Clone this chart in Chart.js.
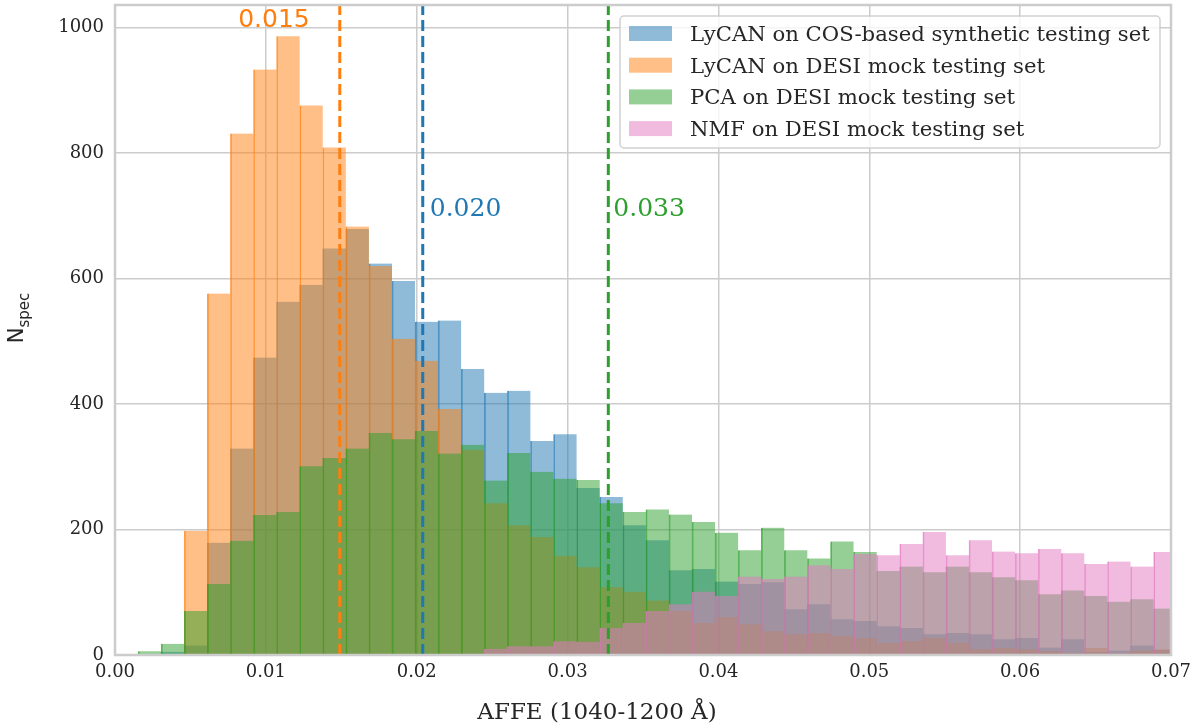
<!DOCTYPE html>
<html>
<head>
<meta charset="utf-8">
<script src="https://cdn.jsdelivr.net/npm/chart.js@4.4.0/dist/chart.umd.min.js"></script>
<style>
  html, body { margin: 0; padding: 0; background: #fff; }
  #wrap { width: 1203px; height: 723px; }
</style>
</head>
<body>
<div id="wrap"><canvas id="affeHist" width="1203" height="723"></canvas></div>
<script>
// histogram bins (left edges) and bin width, AFFE units
var binStarts = [0.00153, 0.00306, 0.00459, 0.00612, 0.00765, 0.00918, 0.01071, 0.01224, 0.01377, 0.0153,
                 0.01683, 0.01836, 0.01989, 0.02142, 0.02295, 0.02448, 0.02601, 0.02754, 0.02907, 0.0306,
                 0.03213, 0.03366, 0.03519, 0.03672, 0.03825, 0.03978, 0.04131, 0.04284, 0.04437, 0.0459,
                 0.04743, 0.04896, 0.05049, 0.05202, 0.05355, 0.05508, 0.05661, 0.05814, 0.05967, 0.0612,
                 0.06273, 0.06426, 0.06579, 0.06732, 0.06885];
var binWidth = 0.00153;

// counts per bin
var lycanCos  = [0, 5, 15, 179, 329, 474, 563, 590, 648, 679, 624, 596, 531, 533, 456, 418, 421, 341, 352, 266,
                 252, 207, 183, 135, 137, 117, 113, 116, 73, 81, 57, 54, 46, 43, 33, 35, 33, 25, 27, 12,
                 25, 5, 7, 15, 8];
var lycanDesi = [0, 0, 198, 576, 831, 933, 986, 876, 809, 683, 620, 504, 469, 392, 327, 242, 207, 188, 158, 140,
                 108, 101, 87, 70, 51, 60, 49, 38, 33, 35, 30, 27, 19, 22, 27, 19, 9, 11, 9, 6,
                 3, 11, 3, 7, 9];
var pcaDesi   = [6, 18, 70, 113, 182, 223, 228, 301, 314, 329, 354, 344, 357, 321, 335, 278, 322, 292, 281, 279,
                 242, 228, 232, 224, 212, 195, 167, 203, 167, 154, 181, 164, 134, 141, 132, 141, 132, 124, 119, 97,
                 103, 94, 85, 89, 74];
var nmfDesi   = [0, 0, 0, 0, 0, 0, 0, 0, 0, 0, 0, 0, 0, 1, 2, 10, 14, 14, 22, 21,
                 43, 51, 70, 81, 101, 94, 125, 121, 125, 143, 137, 161, 159, 177, 196, 159, 183, 165, 162, 169,
                 162, 145, 149, 141, 164];

var seriesLabels = ['LyCAN on COS-based synthetic testing set', 'LyCAN on DESI mock testing set',
                    'PCA on DESI mock testing set', 'NMF on DESI mock testing set'];
var seriesColors = ['31,119,180', '255,127,14', '44,160,44', '227,119,194'];

// medians drawn as dashed lines: blue, orange, green order of the labels
var medianValues = [0.0204, 0.0149, 0.0327];
var medianLabels = ['0.020', '0.015', '0.033'];
var medianColors = ['#1f77b4', '#ff7f0e', '#2ca02c'];

var xTicks = [0, 0.01, 0.02, 0.03, 0.04, 0.05, 0.06, 0.07];
var yTicks = [0, 200, 400, 600, 800, 1000];
var yMax = 1036;

function toPoints(counts) {
  return counts.map(function (c, i) { return { x: binStarts[i] + binWidth / 2, y: c }; });
}

var allCounts = [lycanCos, lycanDesi, pcaDesi, nmfDesi];
var datasets = allCounts.map(function (counts, i) {
  return {
    type: 'bar',
    label: seriesLabels[i],
    data: toPoints(counts),
    backgroundColor: 'rgba(' + seriesColors[i] + ',0.5)',
    borderColor: 'rgba(' + seriesColors[i] + ',0.75)',
    borderWidth: { left: 1, right: 0, top: 0, bottom: 0 },
    borderSkipped: false,
    barPercentage: 1,
    categoryPercentage: 1,
    grouped: false,
    order: 4 - i
  };
});

medianValues.forEach(function (m, i) {
  datasets.push({
    type: 'line',
    label: 'median ' + medianLabels[i],
    data: [{ x: m, y: 0 }, { x: m, y: yMax }],
    borderColor: medianColors[i],
    borderWidth: 3,
    borderDash: [11, 5],
    pointRadius: 0,
    fill: false,
    order: 0
  });
});

var textColor = '#262626';

var decor = {
  id: 'decor',
  afterDraw: function (chart) {
    var ctx = chart.ctx, a = chart.chartArea;
    var xs = chart.scales.x;
    ctx.save();

    // frame
    ctx.strokeStyle = '#cccccc';
    ctx.lineWidth = 2.5;
    ctx.strokeRect(a.left, a.top, a.right - a.left, a.bottom - a.top);

    // median labels
    ctx.textBaseline = 'alphabetic';
    ctx.textAlign = 'left';
    var px;
    px = xs.getPixelForValue(medianValues[0]);
    ctx.fillStyle = medianColors[0];
    ctx.font = '25px "DejaVu Serif"';
    ctx.fillText(medianLabels[0], px + 7, 216);
    px = xs.getPixelForValue(medianValues[1]);
    ctx.fillStyle = medianColors[1];
    ctx.font = '25px "DejaVu Sans"';
    ctx.textAlign = 'right';
    ctx.fillText(medianLabels[1], px - 30, 27);
    px = xs.getPixelForValue(medianValues[2]);
    ctx.fillStyle = medianColors[2];
    ctx.font = '25px "DejaVu Serif"';
    ctx.textAlign = 'left';
    ctx.fillText(medianLabels[2], px + 5, 216);

    // legend box
    var bx = 620, by = 16, bw = 540, bh = 132, r = 4;
    ctx.beginPath();
    ctx.moveTo(bx + r, by);
    ctx.lineTo(bx + bw - r, by);
    ctx.arcTo(bx + bw, by, bx + bw, by + r, r);
    ctx.lineTo(bx + bw, by + bh - r);
    ctx.arcTo(bx + bw, by + bh, bx + bw - r, by + bh, r);
    ctx.lineTo(bx + r, by + bh);
    ctx.arcTo(bx, by + bh, bx, by + bh - r, r);
    ctx.lineTo(bx, by + r);
    ctx.arcTo(bx, by, bx + r, by, r);
    ctx.closePath();
    ctx.fillStyle = 'rgba(255,255,255,0.8)';
    ctx.fill();
    ctx.strokeStyle = 'rgba(204,204,204,0.9)';
    ctx.lineWidth = 1.5;
    ctx.stroke();

    ctx.font = '21.2px "DejaVu Serif"';
    ctx.textAlign = 'left';
    for (var i = 0; i < seriesLabels.length; i++) {
      var rowY = 33.5 + i * 31.7;
      ctx.fillStyle = 'rgba(' + seriesColors[i] + ',0.5)';
      ctx.fillRect(629, rowY - 7.5, 43, 15);
      ctx.fillStyle = textColor;
      ctx.fillText(seriesLabels[i], 690, rowY + 7.5);
    }

    // x title
    ctx.font = '23px "DejaVu Serif"';
    ctx.textAlign = 'center';
    ctx.fillStyle = textColor;
    ctx.fillText('AFFE (1040-1200 \u00C5)', 597, 719);

    // y title N_spec
    ctx.save();
    ctx.translate(23, 318);
    ctx.rotate(-Math.PI / 2);
    ctx.textAlign = 'left';
    ctx.font = '21px "DejaVu Sans"';
    var wN = ctx.measureText('N').width;
    ctx.font = '15px "DejaVu Sans"';
    var wS = ctx.measureText('spec').width;
    var x0 = -(wN + wS) / 2;
    ctx.font = '21px "DejaVu Sans"';
    ctx.fillText('N', x0, 0);
    ctx.font = '15px "DejaVu Sans"';
    ctx.fillText('spec', x0 + wN, 6);
    ctx.restore();

    ctx.restore();
  }
};

var config = {
  type: 'bar',
  data: { datasets: datasets },
  options: {
    responsive: false,
    animation: false,
    devicePixelRatio: 1,
    events: [],
    layout: { padding: { left: 0, right: 32, top: 5, bottom: 0 } },
    plugins: {
      legend: { display: false },
      tooltip: { enabled: false }
    },
    scales: {
      x: {
        type: 'linear',
        min: 0,
        max: 0.07,
        offset: false,
        afterBuildTicks: function (scale) {
          scale.ticks = xTicks.map(function (v) { return { value: v }; });
        },
        afterFit: function (scale) {
          scale.height = 68;
          scale.paddingLeft = 0;
          scale.paddingRight = 0;
        },
        ticks: {
          autoSkip: false,
          maxRotation: 0,
          padding: 7,
          color: textColor,
          font: { family: 'DejaVu Serif', size: 18 },
          callback: function (v) { return v.toFixed(2); }
        },
        grid: { color: '#cccccc', lineWidth: 1.5, drawTicks: false, offset: false },
        border: { display: false }
      },
      y: {
        min: 0,
        max: yMax,
        afterBuildTicks: function (scale) {
          scale.ticks = yTicks.map(function (v) { return { value: v }; });
        },
        afterFit: function (scale) {
          scale.width = 115;
          scale.paddingTop = 0;
          scale.paddingBottom = 0;
        },
        ticks: {
          padding: 11,
          color: textColor,
          font: { family: 'DejaVu Serif', size: 18 },
          callback: function (v) { return String(v); }
        },
        grid: { color: '#cccccc', lineWidth: 1.5, drawTicks: false },
        border: { display: false }
      }
    }
  },
  plugins: [decor]
};

window.onload = function () {
  var ctx = document.getElementById('affeHist').getContext('2d');
  window.affeChart = new Chart(ctx, config);
};
</script>
</body>
</html>
